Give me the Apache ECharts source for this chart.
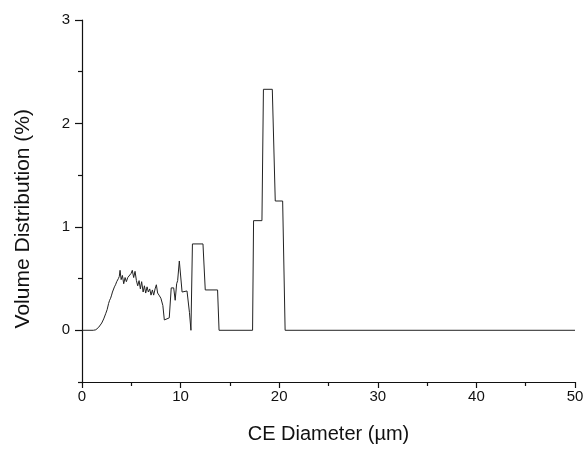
<!DOCTYPE html>
<html>
<head>
<meta charset="utf-8">
<script src="https://cdn.jsdelivr.net/npm/echarts@6/dist/echarts.min.js"></script>
<style>
html,body{margin:0;padding:0;background:#fff;}
#c{width:588px;height:449px;}
</style>
</head>
<body>
<div id="c"></div>
<script>
// CE diameter (µm)
const diameters = [0,1.15,1.4,1.7,2.0,2.2,2.4,2.55,2.7,2.8,2.9,3.0,3.09,3.2,3.29,3.4,3.52,3.6,3.69,3.78,3.86,3.97,4.1,4.23,4.37,4.5,4.64,4.8,4.98,5.1,5.24,5.38,5.52,5.65,5.79,5.92,6.05,6.2,6.33,6.46,6.6,6.73,6.87,7.0,7.14,7.27,7.41,7.54,7.67,7.81,8.0,8.2,8.35,8.5,8.85,9.05,9.3,9.45,9.6,9.7,9.87,10.15,10.65,10.9,11.05,11.2,12.27,12.5,13.75,13.9,17.3,17.4,18.25,18.4,19.3,19.6,20.35,20.6,50];
// Volume distribution (%)
const volumes = [0,0,0.005,0.03,0.07,0.11,0.16,0.2,0.26,0.29,0.31,0.34,0.37,0.38,0.42,0.44,0.47,0.46,0.50,0.52,0.58,0.49,0.53,0.45,0.51,0.47,0.51,0.50,0.55,0.58,0.51,0.57,0.48,0.43,0.48,0.40,0.47,0.37,0.43,0.36,0.42,0.37,0.40,0.34,0.39,0.34,0.40,0.44,0.36,0.34,0.31,0.24,0.10,0.11,0.12,0.41,0.41,0.29,0.45,0.48,0.67,0.37,0.38,0.17,0,0.835,0.835,0.39,0.39,0,0,1.06,1.06,2.33,2.33,1.25,1.25,0,0];
const xTickLabels = [0,10,20,30,40,50];
const yTickLabels = [0,1,2,3];
const yMinorTicks = [-0.5,0.5,1.5,2.5];

const chart = echarts.init(document.getElementById('c'), null, {renderer:'canvas'});
const font = 'Liberation Sans, Arial, sans-serif';
const axisCol = '#111';
chart.setOption({
  animation:false,
  backgroundColor:'#fff',
  grid:{left:82,right:13,top:20,bottom:61,containLabel:false},
  xAxis:{
    type:'value',min:0,max:50,interval:10,
    axisLine:{show:true,onZero:false,lineStyle:{color:axisCol,width:1.2}},
    axisTick:{show:true,inside:false,length:6,lineStyle:{color:axisCol,width:1.2}},
    minorTick:{show:true,splitNumber:2,length:4,lineStyle:{color:axisCol,width:1.2}},
    splitLine:{show:false},
    axisLabel:{color:'#111',fontSize:15,fontFamily:font,margin:7,
      formatter:function(v){return xTickLabels.indexOf(v)>=0?String(v):'';}},
    name:'CE Diameter (µm)',nameLocation:'middle',nameGap:42,
    nameTextStyle:{color:'#111',fontSize:20,fontFamily:font}
  },
  yAxis:[{
    type:'value',min:-0.5,max:3,interval:0.5,
    axisLine:{show:true,onZero:false,lineStyle:{color:axisCol,width:1.2}},
    axisTick:{show:true,inside:false,length:7,customValues:yTickLabels,lineStyle:{color:axisCol,width:1.2}},
    splitLine:{show:false},
    axisLabel:{color:'#111',fontSize:15,fontFamily:font,margin:12,customValues:yTickLabels,
      formatter:function(v){return yTickLabels.indexOf(v)>=0?String(v):'';}}
  },{
    type:'value',min:-0.5,max:3,interval:0.5,position:'left',
    axisLine:{show:false},
    axisTick:{show:true,inside:false,length:4,customValues:yMinorTicks,lineStyle:{color:axisCol,width:1.2}},
    splitLine:{show:false},
    axisLabel:{show:false}
  }],
  graphic:[{
    type:'text',left:13,top:109,rotation:Math.PI/2,
    style:{text:'Volume Distribution (%)',fill:'#111',font:'21px '+font}
  }],
  series:[{
    type:'line',
    data:diameters.map(function(d,i){return [d,volumes[i]];}),
    showSymbol:false,symbol:'none',
    lineStyle:{color:'#222',width:1},
    silent:true
  }]
});
</script>
</body>
</html>
